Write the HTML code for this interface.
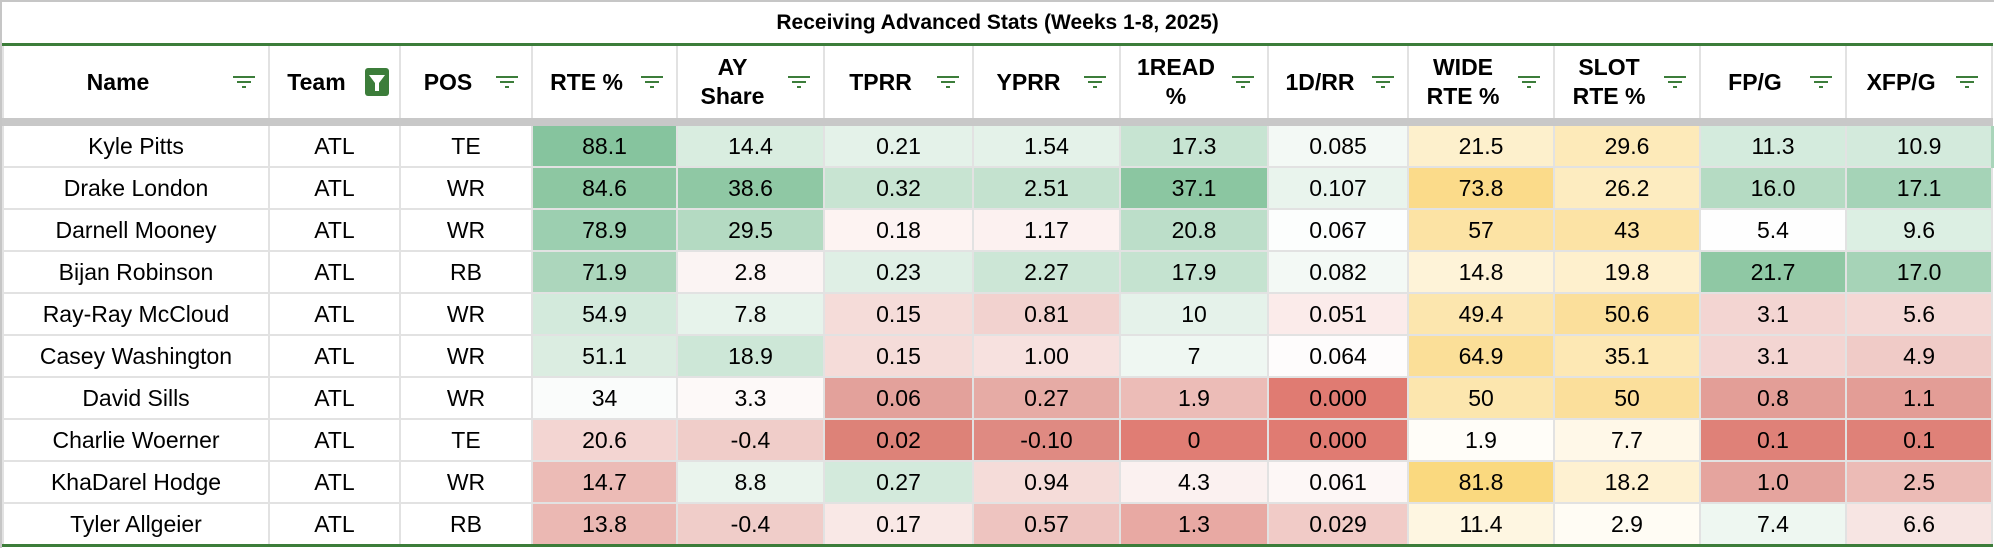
<!DOCTYPE html>
<html><head><meta charset="utf-8">
<style>
html,body{margin:0;padding:0;background:#fff;width:1994px;height:548px;overflow:hidden}
body{position:relative;font-family:"Liberation Sans",Arial,sans-serif}
.topline{position:absolute;left:0;top:0;width:1994px;height:2px;background:#c6c6c6}
.leftline{position:absolute;left:0;top:0;width:2px;height:548px;background:#c6c6c6}
table{position:absolute;left:2px;top:2px;border-collapse:collapse;table-layout:fixed;width:1989px}
td{padding:0;text-align:center;font-size:23px;color:#000;border-left:2px solid #e2e2e2;border-right:2px solid #e2e2e2;border-bottom:2px solid #e2e2e2;overflow:hidden;white-space:nowrap}
tr.title td{height:41px;font-weight:bold;font-size:21px;border-bottom:3px solid #3c7d3a;border-left:none;border-right:none}
tr.hdr td{height:72px;font-weight:bold;font-size:23px;border-bottom:8px solid #c8c8c8;position:relative;line-height:29px}
tr.hdr td .t{display:inline-block;margin-right:36px}
tr.d td{height:40px}
tr.last td{border-bottom:3px solid #3c7d3a}
.ic{position:absolute;right:12px;top:29px;width:24px;height:14px}
.fun{position:absolute;right:10px;top:22px;width:24px;height:28px;background:#3c7d3a;border-radius:3px}
.edge{position:absolute;left:1991px;top:126px;width:3px;height:42px;background:#a9d5ba}
</style></head><body>
<div class="topline"></div><div class="leftline"></div>
<table>
<colgroup><col style="width:266px"><col style="width:131px"><col style="width:132px"><col style="width:145px"><col style="width:147px"><col style="width:149px"><col style="width:147px"><col style="width:148px"><col style="width:140px"><col style="width:146px"><col style="width:146px"><col style="width:146px"><col style="width:146px"></colgroup>
<tr class="title"><td colspan="13">Receiving Advanced Stats (Weeks 1-8, 2025)</td></tr>
<tr class="hdr">
<td><span class="t">Name</span><svg class="ic" viewBox="0 0 24 14"><path d="M1 2H23M5 7H19M10 12H14" stroke="#3c7d3a" stroke-width="2"/></svg></td>
<td><span class="t">Team</span><div class="fun"><svg width="24" height="28" viewBox="0 0 24 28"><path d="M4 7H20L14 15V23H10V15Z" fill="#fff"/></svg></div></td>
<td><span class="t">POS</span><svg class="ic" viewBox="0 0 24 14"><path d="M1 2H23M5 7H19M10 12H14" stroke="#3c7d3a" stroke-width="2"/></svg></td>
<td><span class="t">RTE %</span><svg class="ic" viewBox="0 0 24 14"><path d="M1 2H23M5 7H19M10 12H14" stroke="#3c7d3a" stroke-width="2"/></svg></td>
<td><span class="t">AY<br>Share</span><svg class="ic" viewBox="0 0 24 14"><path d="M1 2H23M5 7H19M10 12H14" stroke="#3c7d3a" stroke-width="2"/></svg></td>
<td><span class="t">TPRR</span><svg class="ic" viewBox="0 0 24 14"><path d="M1 2H23M5 7H19M10 12H14" stroke="#3c7d3a" stroke-width="2"/></svg></td>
<td><span class="t">YPRR</span><svg class="ic" viewBox="0 0 24 14"><path d="M1 2H23M5 7H19M10 12H14" stroke="#3c7d3a" stroke-width="2"/></svg></td>
<td><span class="t">1READ<br>%</span><svg class="ic" viewBox="0 0 24 14"><path d="M1 2H23M5 7H19M10 12H14" stroke="#3c7d3a" stroke-width="2"/></svg></td>
<td><span class="t">1D/RR</span><svg class="ic" viewBox="0 0 24 14"><path d="M1 2H23M5 7H19M10 12H14" stroke="#3c7d3a" stroke-width="2"/></svg></td>
<td><span class="t">WIDE<br>RTE %</span><svg class="ic" viewBox="0 0 24 14"><path d="M1 2H23M5 7H19M10 12H14" stroke="#3c7d3a" stroke-width="2"/></svg></td>
<td><span class="t">SLOT<br>RTE %</span><svg class="ic" viewBox="0 0 24 14"><path d="M1 2H23M5 7H19M10 12H14" stroke="#3c7d3a" stroke-width="2"/></svg></td>
<td><span class="t">FP/G</span><svg class="ic" viewBox="0 0 24 14"><path d="M1 2H23M5 7H19M10 12H14" stroke="#3c7d3a" stroke-width="2"/></svg></td>
<td><span class="t">XFP/G</span><svg class="ic" viewBox="0 0 24 14"><path d="M1 2H23M5 7H19M10 12H14" stroke="#3c7d3a" stroke-width="2"/></svg></td>
</tr>
<tr class="d"><td>Kyle Pitts</td><td>ATL</td><td>TE</td><td style="background:#86c49e">88.1</td><td style="background:#d9ede0">14.4</td><td style="background:#e4f2e9">0.21</td><td style="background:#e4f2e9">1.54</td><td style="background:#c7e4d2">17.3</td><td style="background:#f3f9f5">0.085</td><td style="background:#fdf0cc">21.5</td><td style="background:#fdeab9">29.6</td><td style="background:#d4ebdd">11.3</td><td style="background:#d3eadc">10.9</td></tr>
<tr class="d"><td>Drake London</td><td>ATL</td><td>WR</td><td style="background:#8dc7a2">84.6</td><td style="background:#8fc8a4">38.6</td><td style="background:#c8e4d2">0.32</td><td style="background:#c4e2cf">2.51</td><td style="background:#8bc6a1">37.1</td><td style="background:#e9f4ed">0.107</td><td style="background:#fbdb8a">73.8</td><td style="background:#fdecc0">26.2</td><td style="background:#b5dbc3">16.0</td><td style="background:#a5d3b7">17.1</td></tr>
<tr class="d"><td>Darnell Mooney</td><td>ATL</td><td>WR</td><td style="background:#9ccfb0">78.9</td><td style="background:#b4dac2">29.5</td><td style="background:#fdf3f2">0.18</td><td style="background:#fcf1f0">1.17</td><td style="background:#bcdec9">20.8</td><td style="background:#fcfefd">0.067</td><td style="background:#fce3a4">57</td><td style="background:#fce3a5">43</td><td style="background:#fefefe">5.4</td><td style="background:#dcefe3">9.6</td></tr>
<tr class="d"><td>Bijan Robinson</td><td>ATL</td><td>RB</td><td style="background:#acd6bc">71.9</td><td style="background:#fbf4f3">2.8</td><td style="background:#dfefe5">0.23</td><td style="background:#cce6d6">2.27</td><td style="background:#c5e3d0">17.9</td><td style="background:#f3f9f5">0.082</td><td style="background:#fef3d8">14.8</td><td style="background:#fef0cd">19.8</td><td style="background:#8fc8a4">21.7</td><td style="background:#a6d3b7">17.0</td></tr>
<tr class="d"><td>Ray-Ray McCloud</td><td>ATL</td><td>WR</td><td style="background:#d3eadc">54.9</td><td style="background:#e7f3eb">7.8</td><td style="background:#f5dcd9">0.15</td><td style="background:#f2d2cf">0.81</td><td style="background:#e5f2ea">10</td><td style="background:#fbebea">0.051</td><td style="background:#fce6ae">49.4</td><td style="background:#fbdf9b">50.6</td><td style="background:#f3d5d2">3.1</td><td style="background:#f4d8d5">5.6</td></tr>
<tr class="d"><td>Casey Washington</td><td>ATL</td><td>WR</td><td style="background:#dbede1">51.1</td><td style="background:#cde7d7">18.9</td><td style="background:#f5dcd9">0.15</td><td style="background:#f7e1df">1.00</td><td style="background:#eff7f2">7</td><td style="background:#fefcfc">0.064</td><td style="background:#fbdf98">64.9</td><td style="background:#fde8b4">35.1</td><td style="background:#f3d5d2">3.1</td><td style="background:#f0cbc7">4.9</td></tr>
<tr class="d"><td>David Sills</td><td>ATL</td><td>WR</td><td style="background:#fafcfb">34</td><td style="background:#fdf9f8">3.3</td><td style="background:#e3a19b">0.06</td><td style="background:#e6aba5">0.27</td><td style="background:#ecbcb7">1.9</td><td style="background:#e07b72">0.000</td><td style="background:#fce6ae">50</td><td style="background:#fbdf9b">50</td><td style="background:#e39e97">0.8</td><td style="background:#e39d96">1.1</td></tr>
<tr class="d"><td>Charlie Woerner</td><td>ATL</td><td>TE</td><td style="background:#f3d5d2">20.6</td><td style="background:#f0cdc9">-0.4</td><td style="background:#dd8278">0.02</td><td style="background:#df8a82">-0.10</td><td style="background:#e07d74">0</td><td style="background:#e07b72">0.000</td><td style="background:#fffdf8">1.9</td><td style="background:#fff8e8">7.7</td><td style="background:#df8178">0.1</td><td style="background:#df8178">0.1</td></tr>
<tr class="d"><td>KhaDarel Hodge</td><td>ATL</td><td>WR</td><td style="background:#ecbbb6">14.7</td><td style="background:#eaf4ed">8.8</td><td style="background:#d3eadc">0.27</td><td style="background:#f5dcd9">0.94</td><td style="background:#fbf1f0">4.3</td><td style="background:#fdf7f6">0.061</td><td style="background:#fad97f">81.8</td><td style="background:#fef1d1">18.2</td><td style="background:#e5a49e">1.0</td><td style="background:#ecbbb6">2.5</td></tr>
<tr class="d last"><td>Tyler Allgeier</td><td>ATL</td><td>RB</td><td style="background:#ebb8b3">13.8</td><td style="background:#f0cdc9">-0.4</td><td style="background:#f9e8e6">0.17</td><td style="background:#eec4c0">0.57</td><td style="background:#e8a9a3">1.3</td><td style="background:#f1cbc7">0.029</td><td style="background:#fef6e1">11.4</td><td style="background:#fffcf4">2.9</td><td style="background:#eef7f1">7.4</td><td style="background:#f7e5e3">6.6</td></tr>
</table>
<div class="edge"></div>
</body></html>
